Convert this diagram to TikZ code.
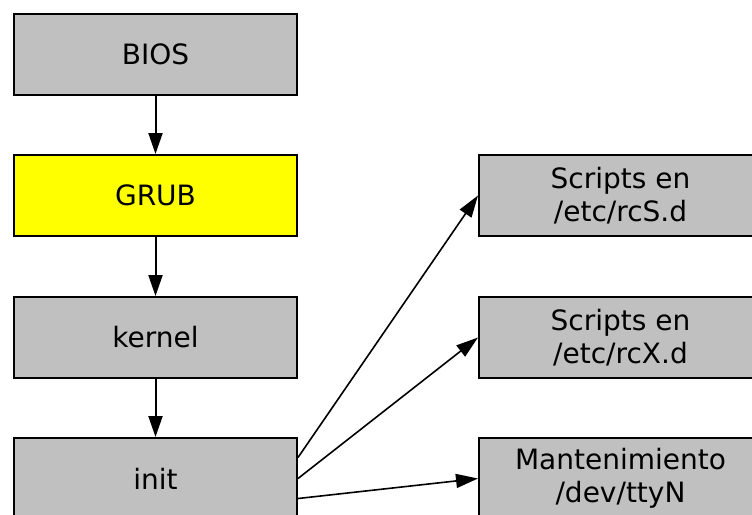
\documentclass[tikz,border=0pt]{standalone}
\usepackage{fontspec}
\setmainfont{DejaVu Sans}
\usetikzlibrary{arrows.meta}
\definecolor{boxgray}{HTML}{C0C0C0}
\definecolor{boxyellow}{HTML}{FFFF00}
\begin{document}
\begin{tikzpicture}[x=1pt,y=1pt,
  boxnode/.style={draw=black, line width=2pt, fill=boxgray, minimum width=283pt, minimum height=81pt,
    inner sep=0pt, align=center, font=\fontsize{28}{32.5}\selectfont},
  thick arrow/.style={line width=2pt, -{Triangle[length=21pt,width=14pt]}},
  thin arrow/.style={line width=1.6pt, -{Triangle[length=22pt,width=14pt]}}]
\useasboundingbox (0,0) rectangle (752,-514);
\clip (0,0) rectangle (752,-514);
\node[boxnode] (bios) at (155.5,-54) {BIOS};
\node[boxnode, fill=boxyellow] (grub) at (155.5,-195.5) {GRUB};
\node[boxnode] (kernel) at (155.5,-337.5) {kernel};
\node[boxnode] (init) at (155.5,-478.5) {init};
\node[boxnode] (rcs) at (620.5,-195.5) {Scripts en\\/etc/rcS.d};
\node[boxnode] (rcx) at (620.5,-337.5) {Scripts en\\/etc/rcX.d};
\node[boxnode] (tty) at (620.5,-478.5) {Mantenimiento\\/dev/ttyN};
\draw[thick arrow] (bios) -- (grub);
\draw[thick arrow] (grub) -- (kernel);
\draw[thick arrow] (kernel) -- (init);
\draw[thin arrow] ([yshift=21pt]init.east) -- (rcs.west);
\draw[thin arrow] (init.east) -- (rcx.west);
\draw[thin arrow] ([yshift=-20pt]init.east) -- (tty.west);
\end{tikzpicture}
\end{document}
